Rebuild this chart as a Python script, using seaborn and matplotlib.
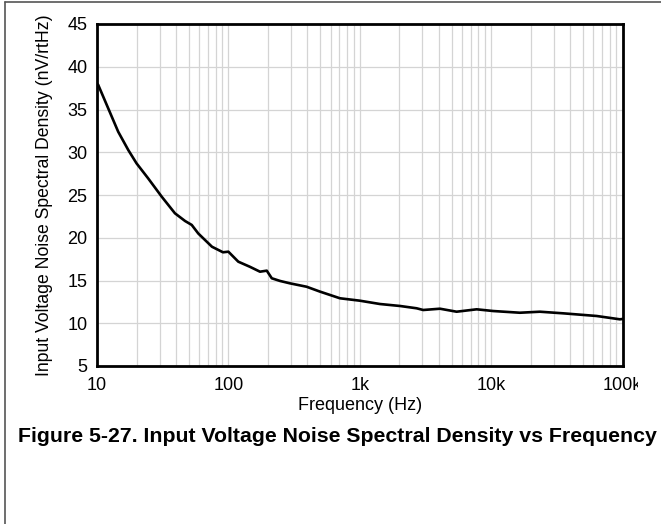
import numpy as np
import pandas as pd
import matplotlib
matplotlib.use("Agg")
import matplotlib.pyplot as plt
import seaborn as sns
from matplotlib.lines import Line2D
from matplotlib.ticker import FixedLocator, FixedFormatter, NullFormatter, LogLocator
from matplotlib.transforms import Bbox, TransformedBbox

# Valores (Hz, nV/rtHz)
freq = [10, 10.2, 12.2, 14.5, 17.3, 20, 24.5, 31.1, 39.2, 46.8, 52.6, 59, 75, 91,
        100, 119, 146, 174, 196, 214, 247, 294, 394, 498, 707, 1000, 1425, 2024,
        2710, 3040, 4080, 5460, 7760, 10370, 16560, 23500, 35400, 63500, 95500,
        100000]
ruido = [38.0, 37.9, 35.1, 32.4, 30.26, 28.7, 26.95, 24.8, 22.86, 21.96, 21.5,
         20.5, 18.95, 18.3, 18.37, 17.2, 16.6, 16.03, 16.15, 15.26, 14.95, 14.67,
         14.27, 13.7, 12.92, 12.64, 12.25, 12.02, 11.75, 11.55, 11.7, 11.35, 11.63,
         11.43, 11.23, 11.35, 11.16, 10.85, 10.46, 10.5]

xticks = [10, 100, 1000, 10000, 100000]
xtick_labels = ["10", "100", "1k", "10k", "100k"]
yticks = [5, 10, 15, 20, 25, 30, 35, 40, 45]

dados = pd.DataFrame({"freq": freq, "ruido": ruido})

sns.set_style("white")
plt.rcParams["font.family"] = ["Liberation Sans", "DejaVu Sans"]
plt.rcParams["text.color"] = "black"
plt.rcParams["axes.labelcolor"] = "black"

fig = plt.figure(figsize=(6.61, 5.24), dpi=100)
ax = fig.add_axes([97 / 661, 1 - 366 / 524, (622.5 - 97) / 661, (366 - 24) / 524])

sns.lineplot(data=dados, x="freq", y="ruido", ax=ax, color="black",
             linewidth=1.9, estimator=None, sort=False)

ax.set_xscale("log")
ax.set_xlim(10, 100000)
ax.set_ylim(5, 45)

ax.xaxis.set_major_locator(FixedLocator(xticks))
ax.xaxis.set_major_formatter(FixedFormatter(xtick_labels))
ax.xaxis.set_minor_locator(LogLocator(base=10, subs=np.arange(2, 10)))
ax.xaxis.set_minor_formatter(NullFormatter())
ax.set_yticks(yticks)

ax.grid(True, which="both", axis="x", color="#d4d4d4", linewidth=0.9)
ax.grid(True, which="major", axis="y", color="#d4d4d4", linewidth=0.9)
ax.tick_params(axis="both", which="both", length=0, labelsize=13, colors="black")
ax.tick_params(axis="x", pad=8)
ax.tick_params(axis="y", pad=7)

for s in ax.spines.values():
    s.set_color("black")
    s.set_linewidth(2.0)

ax.set_xlabel("Frequency (Hz)", fontsize=13, labelpad=2)
ax.set_ylabel("Input Voltage Noise Spectral Density (nV/rtHz)", fontsize=12.7, labelpad=10)

fig.text(18 / 661, 1 - 437 / 524,
         "Figure 5-27. Input Voltage Noise Spectral Density vs Frequency",
         fontsize=15.3, fontweight="bold", ha="left", va="center")

# moldura (linhas de cima e da esquerda)
fig.add_artist(Line2D([4.7 / 661, 1], [1 - 2 / 524, 1 - 2 / 524],
                      transform=fig.transFigure, color="#555555", linewidth=1.2))
fig.add_artist(Line2D([4.7 / 661, 4.7 / 661], [0, 1 - 2 / 524],
                      transform=fig.transFigure, color="#555555", linewidth=1.2))

# o rotulo 100k aparece cortado no original
fig.canvas.draw()
clip = TransformedBbox(Bbox([[0, 0], [638 / 661, 1]]), fig.transFigure)
ultimo = ax.get_xticklabels()[-1]
ultimo.set_clip_box(clip)
ultimo.set_clip_on(True)

fig.savefig("out.png", dpi=100)
